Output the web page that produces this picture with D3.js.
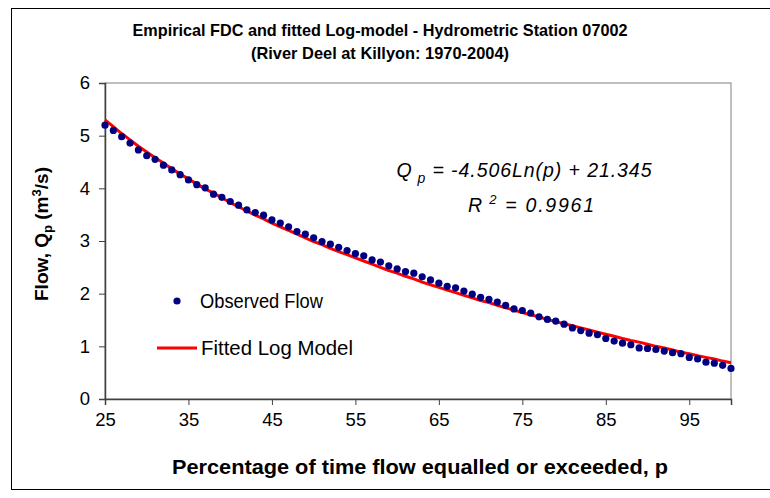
<!DOCTYPE html>
<html>
<head>
<meta charset="utf-8">
<script src="https://cdn.jsdelivr.net/npm/d3@7/dist/d3.min.js"></script>
<style>
  html, body { margin: 0; padding: 0; background: #fff; }
  svg { display: block; font-family: "Liberation Sans", Arial, sans-serif; }
</style>
</head>
<body>
<svg id="chart" width="770" height="498"></svg>
<script>
// ---- Data ----
const percent = d3.range(25, 101); // p = 25 ... 100
const observedFlow = [
  5.20, 5.10, 4.98, 4.86, 4.73, 4.62, 4.55, 4.44, 4.35, 4.26,
  4.16, 4.07, 4.01, 3.89, 3.83, 3.75, 3.68, 3.59, 3.54, 3.49,
  3.40, 3.34, 3.27, 3.18, 3.13, 3.06, 2.99, 2.94, 2.88, 2.82,
  2.76, 2.72, 2.64, 2.60, 2.53, 2.47, 2.42, 2.39, 2.32, 2.26,
  2.20, 2.14, 2.11, 2.05, 1.99, 1.93, 1.89, 1.84, 1.78, 1.71,
  1.68, 1.63, 1.56, 1.51, 1.48, 1.42, 1.35, 1.30, 1.25, 1.22,
  1.15, 1.10, 1.06, 1.03, 0.97, 0.96, 0.94, 0.91, 0.88, 0.86,
  0.79, 0.76, 0.70, 0.68, 0.64, 0.58
];
const fittedFlow = [
  5.30, 5.17, 5.04, 4.92, 4.80, 4.69, 4.58, 4.48, 4.37, 4.27,
  4.18, 4.08, 3.99, 3.91, 3.82, 3.73, 3.65, 3.57, 3.49, 3.42,
  3.34, 3.27, 3.20, 3.13, 3.06, 2.99, 2.93, 2.86, 2.80, 2.74,
  2.68, 2.62, 2.56, 2.50, 2.44, 2.39, 2.33, 2.28, 2.22, 2.17,
  2.12, 2.07, 2.02, 1.97, 1.92, 1.87, 1.83, 1.78, 1.73, 1.69,
  1.64, 1.60, 1.56, 1.51, 1.47, 1.43, 1.39, 1.35, 1.31, 1.27,
  1.23, 1.19, 1.15, 1.11, 1.08, 1.04, 1.00, 0.97, 0.93, 0.89,
  0.86, 0.82, 0.79, 0.76, 0.72, 0.69
];
const xTicks = [25, 35, 45, 55, 65, 75, 85, 95];
const yTicks = [0, 1, 2, 3, 4, 5, 6];
const titleLines = ["Empirical FDC and fitted Log-model - Hydrometric Station 07002",
                    "(River Deel at Killyon: 1970-2004)"];
const legendLabels = ["Observed Flow", "Fitted Log Model"];

// ---- Layout ----
const svg = d3.select("#chart");
const plot = { left: 105, top: 83, right: 731, bottom: 399 };
const FONT = "Liberation Sans, Arial, sans-serif";

// outer chart border
svg.append("rect")
  .attr("x", 11.5).attr("y", 8.5).attr("width", 780).attr("height", 481)
  .attr("fill", "#fff").attr("stroke", "#000").attr("stroke-width", 1);

const x = d3.scaleLinear().domain([25, 100]).range([plot.left, plot.right]);
const y = d3.scaleLinear().domain([0, 6]).range([plot.bottom, plot.top]);

// plot area border
svg.append("rect")
  .attr("x", plot.left).attr("y", plot.top)
  .attr("width", plot.right - plot.left).attr("height", plot.bottom - plot.top)
  .attr("fill", "none").attr("stroke", "#808080").attr("stroke-width", 1);

// Y axis
const yAxis = svg.append("g")
  .attr("transform", `translate(${plot.left},0)`)
  .call(d3.axisLeft(y).tickValues(yTicks).tickSize(6).tickPadding(9).tickFormat(d3.format("d")));
yAxis.select(".domain").attr("stroke", "#404040").attr("stroke-width", 1.5);
yAxis.selectAll(".tick line").attr("stroke", "#404040");
yAxis.selectAll("text").attr("font-size", 18.5).attr("fill", "#000").attr("font-family", FONT);

// X axis
const xAxis = svg.append("g")
  .attr("transform", `translate(0,${plot.bottom})`)
  .call(d3.axisBottom(x).tickValues(xTicks).tickSize(6).tickPadding(8).tickFormat(d3.format("d")));
xAxis.select(".domain").attr("stroke", "#404040").attr("stroke-width", 1.5);
xAxis.selectAll(".tick line").attr("stroke", "#404040");
xAxis.selectAll("text").attr("font-size", 18.5).attr("fill", "#000").attr("font-family", FONT);

// Fitted line
const line = d3.line().x((d, i) => x(percent[i])).y(d => y(d));
svg.append("path")
  .datum(fittedFlow)
  .attr("d", line)
  .attr("fill", "none").attr("stroke", "#ff0000").attr("stroke-width", 3)
  .attr("stroke-linejoin", "round");

// Observed dots
svg.append("g").selectAll("circle")
  .data(observedFlow)
  .join("circle")
  .attr("cx", (d, i) => x(percent[i]))
  .attr("cy", d => y(d))
  .attr("r", 3.6)
  .attr("fill", "#000080");

// Titles
const titleWidths = [495, 258];
titleLines.forEach((t, i) => {
  svg.append("text")
    .attr("x", 380).attr("y", 36 + i * 23)
    .attr("text-anchor", "middle").attr("font-weight", "bold").attr("font-size", 17)
    .attr("textLength", titleWidths[i]).attr("lengthAdjust", "spacingAndGlyphs")
    .text(t);
});

// Axis titles
svg.append("text")
  .attr("x", 420).attr("y", 474)
  .attr("text-anchor", "middle").attr("font-weight", "bold").attr("font-size", 20)
  .attr("textLength", 496).attr("lengthAdjust", "spacingAndGlyphs")
  .text("Percentage of time flow equalled or exceeded, p");

const yt = svg.append("text")
  .attr("transform", "translate(48,234) rotate(-90)")
  .attr("text-anchor", "middle").attr("font-weight", "bold").attr("font-size", 19)
  .attr("textLength", 134).attr("lengthAdjust", "spacingAndGlyphs");
yt.append("tspan").text("Flow, Q");
yt.append("tspan").attr("font-size", 13).attr("dy", 4).text("p");
yt.append("tspan").attr("dy", -4).text(" (m");
yt.append("tspan").attr("font-size", 13).attr("dy", -7).text("3");
yt.append("tspan").attr("dy", 7).text("/s)");

// Equation
const eq = svg.append("text")
  .attr("x", 524).attr("y", 177)
  .attr("text-anchor", "middle").attr("font-style", "italic").attr("font-size", 19.5)
  .attr("textLength", 255).attr("lengthAdjust", "spacing");
eq.append("tspan").text("Q");
eq.append("tspan").attr("font-size", 14).attr("dy", 6).text(" p");
eq.append("tspan").attr("dy", -6).text("  = -4.506Ln(p) + 21.345");

const r2 = svg.append("text")
  .attr("x", 531).attr("y", 212)
  .attr("text-anchor", "middle").attr("font-style", "italic").attr("font-size", 19.5)
  .attr("textLength", 126).attr("lengthAdjust", "spacing");
r2.append("tspan").text("R");
r2.append("tspan").attr("font-size", 13).attr("dy", -8).text(" 2");
r2.append("tspan").attr("dy", 8).text(" = 0.9961");

// Legend
const lg = svg.append("g");
lg.append("circle").attr("cx", 177).attr("cy", 301).attr("r", 3.6).attr("fill", "#000080");
lg.append("text").attr("x", 200).attr("y", 308).attr("font-size", 19.5)
  .attr("textLength", 123).attr("lengthAdjust", "spacingAndGlyphs").text(legendLabels[0]);
lg.append("line").attr("x1", 157).attr("x2", 197).attr("y1", 348).attr("y2", 348)
  .attr("stroke", "#ff0000").attr("stroke-width", 3);
lg.append("text").attr("x", 201).attr("y", 355).attr("font-size", 19.5)
  .attr("textLength", 152).attr("lengthAdjust", "spacingAndGlyphs").text(legendLabels[1]);
</script>
</body>
</html>
